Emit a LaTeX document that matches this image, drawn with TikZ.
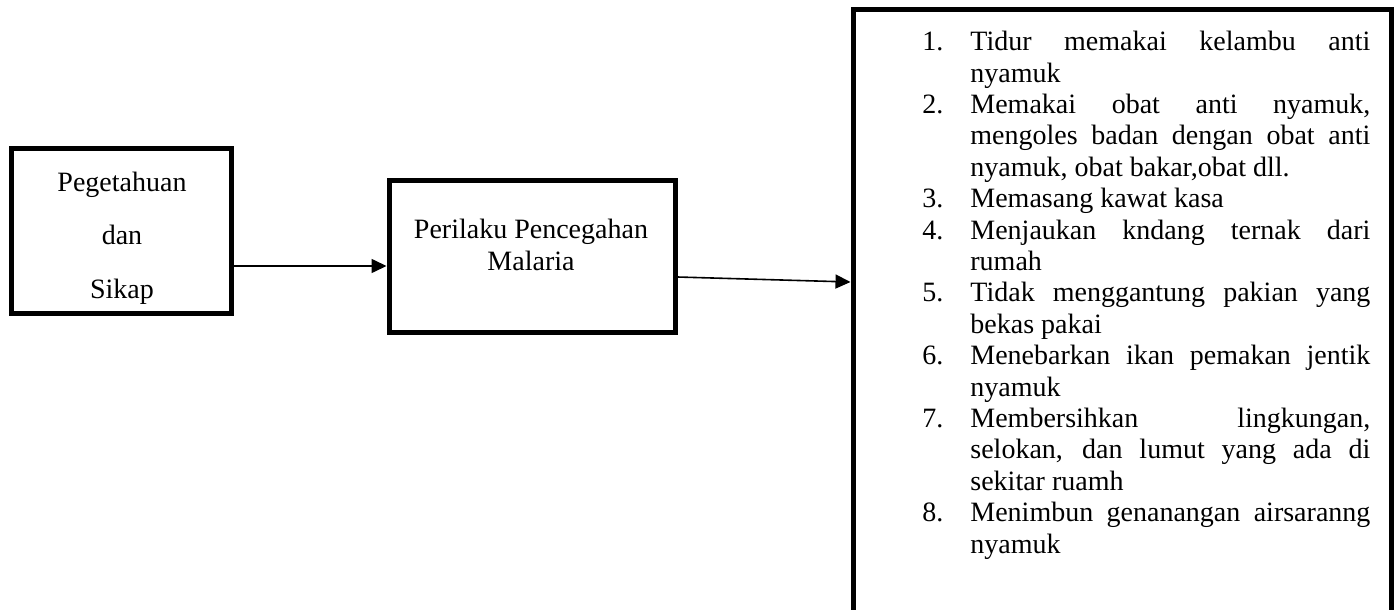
\documentclass[tikz,border=0pt]{standalone}
\usepackage{fontspec}
\setmainfont{Liberation Serif}
\usetikzlibrary{arrows.meta}
\hbadness=10000
\begin{document}
\begin{tikzpicture}[x=0.5pt,y=-0.5pt,
  box/.style={draw=black,line width=2.5pt,rectangle,inner sep=0pt},
  lbl/.style={inner sep=0pt,align=center,font=\fontsize{14}{#1}\selectfont},
  arr/.style={draw=black,line width=0.8pt,-{Triangle[length=7.5pt,width=7pt]}}]
\clip (0,0) rectangle (1394,610);
\fill[white] (0,0) rectangle (1394,610);
% boxes
\node[box,minimum width=110pt,minimum height=82pt] (b1) at (121,231) {};
\node[box,minimum width=143pt,minimum height=75.5pt] (b2) at (532,256.5) {};
\node[box,minimum width=269pt,minimum height=325pt] (b3) at (1122,335) {};
% texts
\node[lbl=26.75pt] (t1) at (122,238) {Pegetahuan\\dan\\Sikap};
\node[lbl=16pt] (t2) at (531,244.5) {Perilaku Pencegahan\\Malaria};
\node[inner sep=0pt,anchor=north west,text width=224pt,align=justify,
      font=\fontsize{14}{15.7}\selectfont] (list) at (922,19) {%
\parindent=0pt\parskip=0pt\rightskip=0pt\parfillskip=0pt plus 1fil
\def\itm#1{\par\noindent\hangindent=24pt\hangafter=1\makebox[24pt][l]{#1}}%
\itm{1.}Tidur memakai kelambu anti\linebreak nyamuk
\itm{2.}Memakai obat anti nyamuk,\linebreak mengoles badan dengan obat anti\linebreak nyamuk, obat bakar,obat dll.
\itm{3.}Memasang kawat kasa
\itm{4.}Menjaukan kndang ternak dari\linebreak rumah
\itm{5.}Tidak menggantung pakian yang\linebreak bekas pakai
\itm{6.}Menebarkan ikan pemakan jentik\linebreak nyamuk
\itm{7.}Membersihkan lingkungan,\linebreak selokan, dan lumut yang ada di\linebreak sekitar ruamh
\itm{8.}Menimbun genanangan airsaranng\linebreak nyamuk\par};
% connectors
\draw[arr] (b1.east |- 0,266) -- (b2.west |- 0,266);
\draw[arr] (b2.east |- 0,277) -- (b3.west |- 0,282);
\end{tikzpicture}
\end{document}
